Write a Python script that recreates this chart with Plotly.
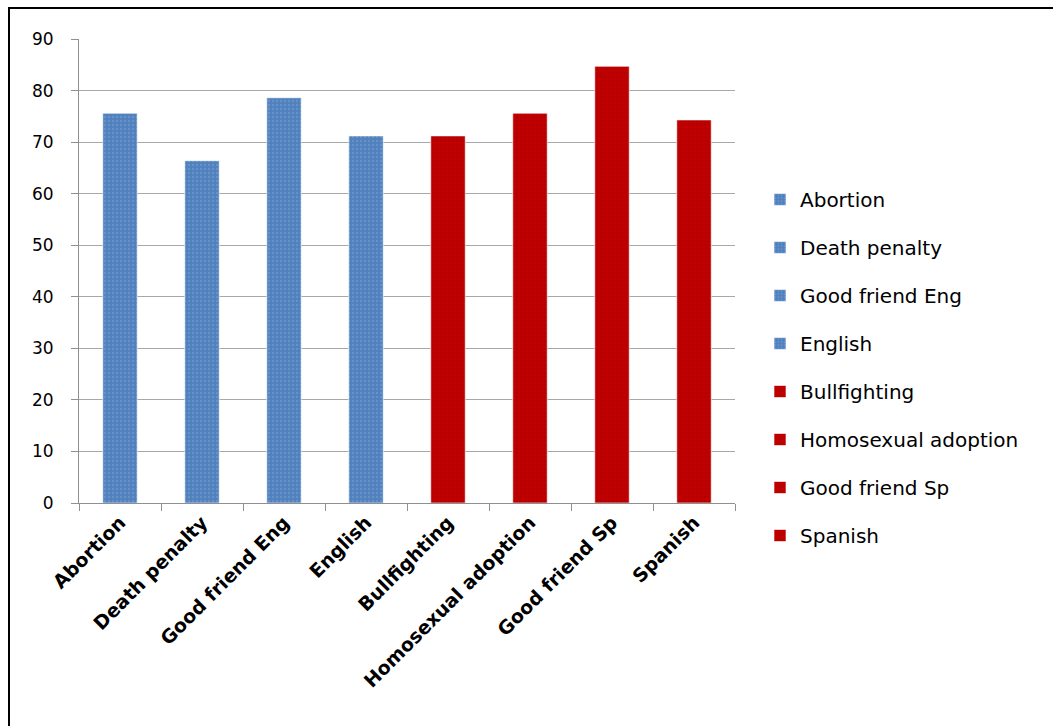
import plotly.graph_objects as go

categories = ["Abortion", "Death penalty", "Good friend Eng", "English",
              "Bullfighting", "Homosexual adoption", "Good friend Sp", "Spanish"]
values = [75.6, 66.4, 78.6, 71.2, 71.2, 75.6, 84.7, 74.3]
colors = ["#4F81BD"] * 4 + ["#C00000"] * 4
pattern_fg = ["#7EA2D4"] * 4 + ["#A80000"] * 4
y_ticks = [0, 10, 20, 30, 40, 50, 60, 70, 80, 90]

W, H = 1053, 726
L, R, T, B = 79, 318, 39, 223
pw, ph = W - L - R, H - T - B

fig = go.Figure()
for i, (cat, val) in enumerate(zip(categories, values)):
    fig.add_trace(go.Bar(
        x=[cat], y=[val], name=cat, legendgroup=cat,
        width=0.42,
        marker=dict(color=colors[i],
                    line=dict(color="rgba(255,255,255,0.6)", width=1),
                    pattern=dict(shape=".", fgcolor=pattern_fg[i],
                                 bgcolor=colors[i], size=4, solidity=0.3)),
    ))

# outer frame around the chart area
fig.add_shape(type="rect", xref="paper", yref="paper",
              x0=(9 - L) / pw, x1=(W + 20 - L) / pw,
              y0=-(H + 20 - T - ph) / ph, y1=(H - B - 8) / ph,
              line=dict(color="black", width=2), fillcolor="rgba(0,0,0,0)",
              layer="below")

fig.update_layout(
    width=W, height=H,
    margin=dict(l=L, r=R, t=T, b=B, autoexpand=False),
    paper_bgcolor="white", plot_bgcolor="white",
    barmode="overlay",
    font=dict(family="DejaVu Sans, sans-serif", color="#111"),
    xaxis=dict(categoryorder="array", categoryarray=categories,
               showline=True, linecolor="#909090", linewidth=1,
               ticks="outside", tickson="boundaries", ticklen=7,
               tickcolor="#909090", tickangle=-45,
               tickfont=dict(size=19, family="DejaVu Sans, sans-serif",
                             weight="bold", color="#000"),
               showgrid=False),
    yaxis=dict(range=[0, 90], tickvals=y_ticks, showline=True,
               linecolor="#909090", linewidth=1,
               ticks="outside", ticklen=7, tickcolor="#909090",
               ticklabelstandoff=14,
               showgrid=True, gridcolor="#A8A8A8", gridwidth=1,
               tickfont=dict(size=17, family="DejaVu Sans, sans-serif",
                             color="#000"),
               zeroline=False),
    legend=dict(x=(760 - L) / pw, xanchor="left",
                y=(H - B - 180) / ph, yanchor="top",
                font=dict(size=20, family="DejaVu Sans, sans-serif",
                          color="#000"),
                tracegroupgap=19,
                itemwidth=30, bgcolor="rgba(0,0,0,0)"),
    showlegend=True,
)

fig.write_html("out.html")
